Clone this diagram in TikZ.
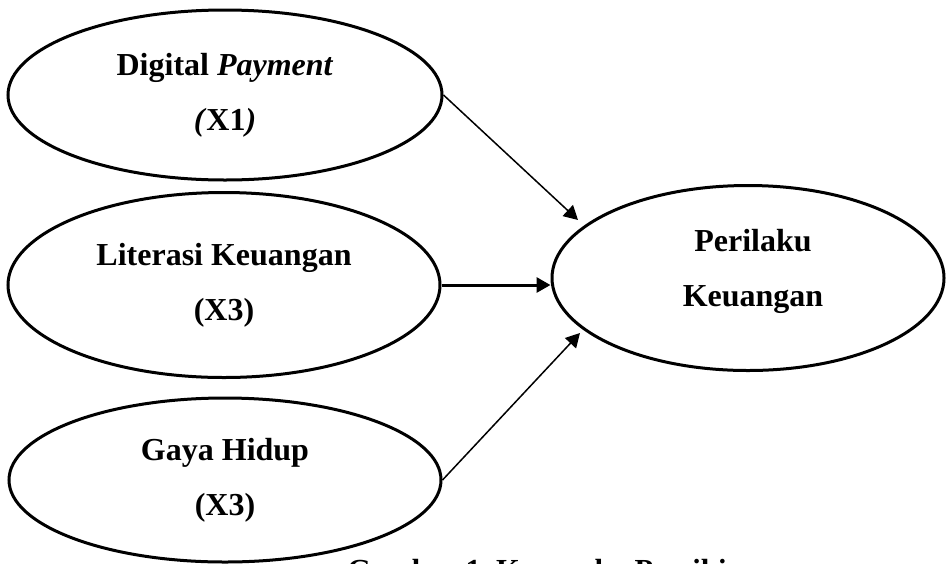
\documentclass[tikz,border=0pt]{standalone}
\usepackage{fontspec}
\setmainfont{Liberation Serif}
\usepackage{tikz}
\usetikzlibrary{arrows.meta, positioning, shapes.geometric}

\begin{document}
\begin{tikzpicture}[x=0.5pt, y=-0.5pt,
		variabel/.style={ellipse, draw, line width=1.5pt, inner sep=0pt, align=center, font=\fontsize{16}{27.5}\selectfont\bfseries},
		panah/.style={-{Triangle[length=7pt, width=7.5pt]}, line width=0.75pt},
		panahtebal/.style={-{Triangle[length=7pt, width=7.5pt]}, line width=1.5pt}]
			% Frame:
			\useasboundingbox (0,0) rectangle (946,563);
			\clip (0,0) rectangle (946,563);
			% Variables:
			\node[variabel, minimum width=217pt, minimum height=85pt] (dp) at (225,95) {Digital \textit{Payment}\\\textit{(}X1\textit{)}};
			\node[variabel, minimum width=216pt, minimum height=92.5pt] (lk) at (224,285) {Literasi Keuangan\\(X3)};
			\node[variabel, minimum width=216pt, minimum height=82pt] (gh) at (225,480) {Gaya Hidup\\(X3)};
			\node[variabel, minimum width=196pt, minimum height=92.5pt, text depth=10pt] (pk) at (748,278) {\hspace{5pt}Perilaku\\\hspace{5pt}Keuangan};
			\coordinate (tip1) at (578,220);
			\coordinate (tip3) at (580,333);
			% Arrows:
			\draw[panah] (dp.east) -- (tip1);
			\draw[panahtebal] (lk.east) -- (lk.east -| pk.west);
			\draw[panah] (gh.east) -- (tip3);
			% Caption (cut off by the frame):
			\node[anchor=base west, inner sep=0pt, font=\fontsize{15.3}{18}\selectfont\bfseries\frenchspacing] (cap) at (347,580) {Gambar 1. Kerangka Pemikiran};
		\end{tikzpicture}
\end{document}
